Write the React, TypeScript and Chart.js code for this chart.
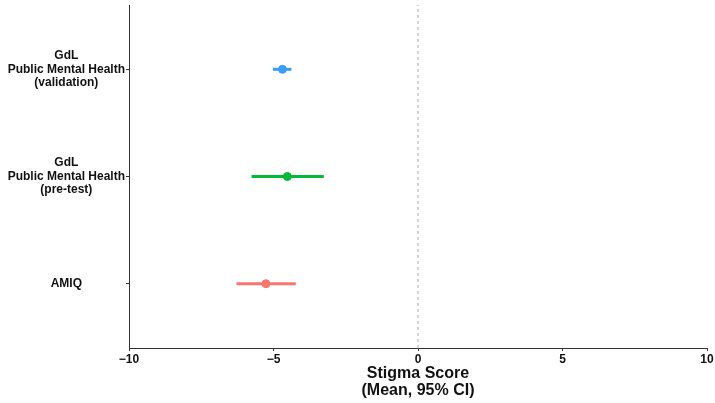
import React, { useEffect, useRef } from "react";
import { Chart, registerables } from "chart.js";

Chart.register(...registerables);

const categories: string[][] = [
  ["AMIQ"],
  ["GdL", "Public Mental Health", "(pre-test)"],
  ["GdL", "Public Mental Health", "(validation)"],
];
const categoryPos = [1, 2, 3];
const means = [-5.26, -4.52, -4.69];
const ciLow = [-6.28, -5.76, -5.02];
const ciHigh = [-4.23, -3.26, -4.38];
const colors = ["#F8766D", "#00BA38", "#3C9CF5"];
const xTicks = [-10, -5, 0, 5, 10];
const refLine = 0;
const yMin = 0.4;
const yMax = 3.6;

const sans = "'Liberation Sans', Arial, sans-serif";

export default function App() {
  const ref = useRef<HTMLCanvasElement | null>(null);
  useEffect(() => {
    if (!ref.current) return;
    const datasets: any[] = [];
    datasets.push({
      type: "line",
      data: [
        { x: refLine, y: yMin },
        { x: refLine, y: yMax },
      ],
      borderColor: "#a8a8a8",
      borderWidth: 1,
      borderDash: [3, 3],
      pointRadius: 0,
      order: 5,
    });
    categoryPos.forEach((y, i) => {
      datasets.push({
        type: "line",
        data: [
          { x: ciLow[i], y },
          { x: ciHigh[i], y },
        ],
        borderColor: colors[i],
        borderWidth: 3,
        pointRadius: 0,
        order: 2,
      });
      datasets.push({
        type: "scatter",
        data: [{ x: means[i], y }],
        backgroundColor: colors[i],
        borderColor: colors[i],
        pointRadius: 4,
        order: 1,
      });
    });
    const chart = new Chart(ref.current, {
      type: "scatter",
      data: { datasets },
      options: {
        animation: false,
        responsive: false,
        layout: { padding: { top: 5, right: 8, left: 0, bottom: 0 } },
        plugins: { legend: { display: false }, tooltip: { enabled: false } },
        scales: {
          x: {
            type: "linear",
            min: -10,
            max: 10,
            afterBuildTicks: (s: any) => {
              s.ticks = xTicks.map((v) => ({ value: v }));
            },
            afterFit: (s: any) => {
              s.height = 55;
            },
            grid: {
              drawOnChartArea: false,
              drawTicks: true,
              tickLength: 3,
              tickColor: "#333",
            },
            border: { display: true, color: "#333", width: 1 },
            ticks: {
              color: "#111",
              font: { family: sans, size: 12, weight: "bold" },
              padding: 1,
              callback: (v: any) => (v < 0 ? "\u2212" + Math.abs(v) : String(v)),
            },
            title: {
              display: true,
              text: ["Stigma Score", "(Mean, 95% CI)"],
              color: "#111",
              font: { family: sans, size: 16, weight: "bold", lineHeight: 1.12 },
              padding: { top: 0, bottom: 3 },
            },
          },
          y: {
            type: "linear",
            min: yMin,
            max: yMax,
            afterBuildTicks: (s: any) => {
              s.ticks = [yMin, ...categoryPos, yMax].map((v) => ({ value: v }));
            },
            afterFit: (s: any) => {
              s.width = 129;
              s.paddingTop = 0;
              s.paddingBottom = 0;
            },
            grid: {
              drawOnChartArea: false,
              drawTicks: true,
              tickLength: 3,
              tickColor: (c: any) =>
                categoryPos.indexOf(c.tick?.value) >= 0 ? "#333" : "rgba(0,0,0,0)",
            },
            border: { display: true, color: "#333", width: 1 },
            ticks: {
              color: "#111",
              crossAlign: "center",
              padding: 1,
              font: { family: sans, size: 12, weight: "bold", lineHeight: 1.12 },
              callback: (v: any) => {
                const i = categoryPos.indexOf(v);
                return i >= 0 ? categories[i] : "";
              },
            },
          },
        },
      },
    });
    return () => chart.destroy();
  }, []);
  return (
    <div style={{ position: "fixed", left: 0, top: 0, width: 715, height: 403, background: "#fff" }}>
      <canvas ref={ref} width={715} height={403} />
    </div>
  );
}
